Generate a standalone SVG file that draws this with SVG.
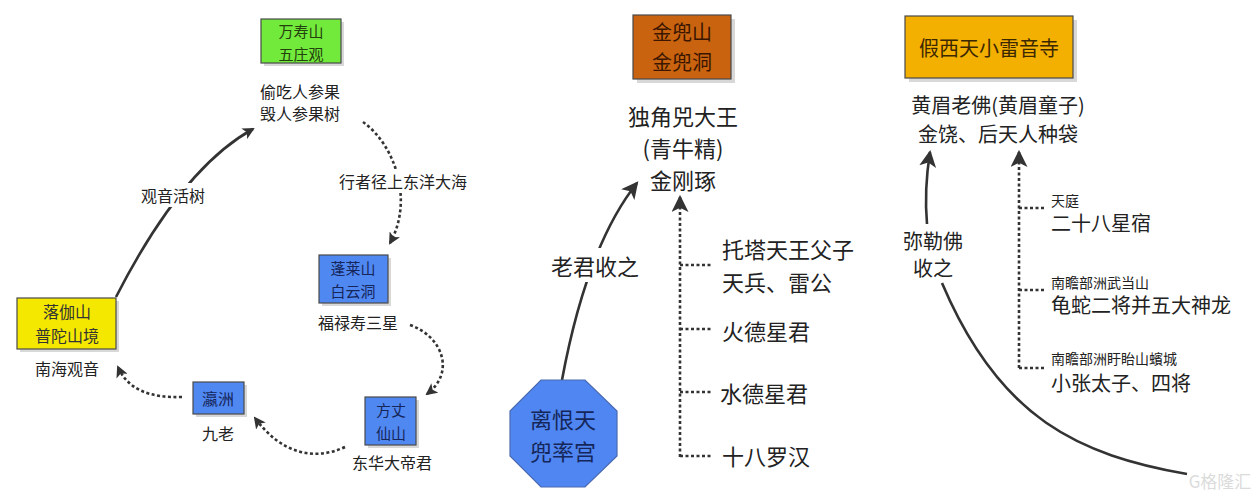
<svg xmlns="http://www.w3.org/2000/svg" width="1259" height="497" viewBox="0 0 1259 497">
<defs>
<marker id="ah" viewBox="0 0 12 12" refX="10" refY="6" markerWidth="12" markerHeight="12" markerUnits="userSpaceOnUse" orient="auto">
<path d="M0,0 L12,6 L0,12 L3,6 Z" fill="#333"/>
</marker>
<marker id="ahb" viewBox="0 0 16 16" refX="14" refY="8" markerWidth="17" markerHeight="17" markerUnits="userSpaceOnUse" orient="auto">
<path d="M0,0 L16,8 L0,16 L4,8 Z" fill="#333"/>
</marker>
</defs>
<style>
text{font-family:"Noto Sans CJK SC","Noto Sans",sans-serif;fill:#222;text-anchor:middle;dominant-baseline:central}
.s15{font-size:15px}
.s16{font-size:16px}
.s20{font-size:20px}
.s22{font-size:22px}
.sm{font-size:14px;text-anchor:start}
.l20{font-size:20px;text-anchor:start}
.l22{font-size:22px;text-anchor:start}
.box{stroke:#4a4a4a;stroke-width:1.2}
.sh{fill:#d8d8d8}
.solid{fill:none;stroke:#333;stroke-width:2.6}
.dot{fill:none;stroke:#333;stroke-width:2.6;stroke-dasharray:3 2.5}
.bg{fill:#fff}
</style>
<rect width="1259" height="497" fill="#fff"/>

<g id="connectors">
<path class="solid" d="M116,297 Q182,168 253,129" marker-end="url(#ah)"/>
<path class="dot" d="M363,122 C395,145 414,200 390,243" marker-end="url(#ah)"/>
<path class="dot" d="M410,325 C442,336 456,372 427,394" marker-end="url(#ah)"/>
<path class="dot" d="M345,447 C312,462 280,452 255,418" marker-end="url(#ah)"/>
<path class="dot" d="M182,397 C150,398 128,390 118,367" marker-end="url(#ah)"/>
<path class="solid" d="M562,380 C575,310 598,232 637,183" marker-end="url(#ahb)"/>
<path class="dot" d="M680,457 L680,197" marker-end="url(#ahb)"/>
<path class="dot" d="M680,265 H712 M680,329 H712 M680,392 H712 M680,456 H712"/>
<path class="solid" d="M1187,474 C1080,455 1000,420 942,283"/>
<path class="solid" d="M927,224 Q924,190 930,152" marker-end="url(#ahb)"/>
<path class="dot" d="M1019,368 L1019,152" marker-end="url(#ahb)"/>
<path class="dot" d="M1019,208 H1045 M1019,290 H1045 M1019,368 H1045"/>
</g>

<g id="label-guanyin">
<rect class="bg" x="138" y="183" width="70" height="24"/>
<text class="s16" x="173" y="195">观音活树</text>
</g>
<g id="label-xingzhe">
<rect class="bg" x="336" y="169" width="134" height="24"/>
<text class="s16" x="403" y="181">行者径上东洋大海</text>
</g>
<g id="label-laojun">
<rect class="bg" x="548" y="248" width="94" height="34"/>
<text class="s22" x="595" y="265">老君收之</text>
</g>
<g id="label-mile">
<rect class="bg" x="903" y="226" width="62" height="56"/>
<text class="s20" x="933" y="240">弥勒佛</text>
<text class="s20" x="933" y="267">收之</text>
</g>

<g id="wanshoushan">
<rect class="sh" x="264" y="22" width="80" height="44"/>
<rect class="box" x="261" y="19" width="80" height="44" fill="#72ea3c"/>
<text class="s15" x="301" y="30" style="fill:#24400c">万寿山</text>
<text class="s15" x="301" y="53" style="fill:#24400c">五庄观</text>
<text class="s16" x="300" y="91">偷吃人参果</text>
<text class="s16" x="300" y="113">毁人参果树</text>
</g>

<g id="penglai">
<rect class="sh" x="322" y="258" width="69" height="48"/>
<rect class="box" x="319" y="255" width="69" height="48" fill="#5088f2"/>
<text class="s15" x="353" y="267" style="fill:#15265a">蓬莱山</text>
<text class="s15" x="353" y="290" style="fill:#15265a">白云洞</text>
<text class="s16" x="358" y="322">福禄寿三星</text>
</g>

<g id="fangzhang">
<rect class="sh" x="368" y="400" width="51" height="48"/>
<rect class="box" x="365" y="397" width="51" height="48" fill="#5088f2"/>
<text class="s15" x="391" y="409" style="fill:#15265a">方丈</text>
<text class="s15" x="391" y="432" style="fill:#15265a">仙山</text>
<text class="s16" x="392" y="462">东华大帝君</text>
</g>

<g id="yingzhou">
<rect class="sh" x="196" y="385" width="51" height="32"/>
<rect class="box" x="193" y="382" width="51" height="32" fill="#5088f2"/>
<text class="s16" x="218" y="398" style="fill:#15265a">瀛洲</text>
<text class="s16" x="218" y="433">九老</text>
</g>

<g id="luojia">
<rect class="sh" x="20" y="301" width="99" height="51"/>
<rect class="box" x="17" y="298" width="99" height="51" fill="#f4e800"/>
<text class="s16" x="67" y="311" style="fill:#333">落伽山</text>
<text class="s16" x="67" y="335" style="fill:#333">普陀山境</text>
<text class="s16" x="67" y="368">南海观音</text>
</g>

<g id="jindoushan">
<rect class="sh" x="637" y="19" width="98" height="64"/>
<rect class="box" x="633" y="15" width="98" height="64" fill="#c9630f"/>
<text class="s20" x="682" y="31" style="fill:#3a1600">金兜山</text>
<text class="s20" x="682" y="61" style="fill:#3a1600">金兜洞</text>
<text class="s22" x="683" y="115">独角兕大王</text>
<text class="s22" x="683" y="147">(青牛精)</text>
<text class="s22" x="683" y="179">金刚琢</text>
</g>

<g id="doushuaigong">
<polygon points="541,380 585,380 617,411 617,456 585,487 541,487 510,456 510,411" fill="#4f86f2" stroke="#4a6ab0" stroke-width="1.2"/>
<text class="s22" x="563" y="418" style="fill:#15265a">离恨天</text>
<text class="s22" x="563" y="450" style="fill:#15265a">兜率宫</text>
</g>

<g id="helpers-mid">
<text class="l22" x="722" y="248">托塔天王父子</text>
<text class="l22" x="722" y="281">天兵、雷公</text>
<text class="l22" x="722" y="330">火德星君</text>
<text class="l22" x="720" y="392">水德星君</text>
<text class="l22" x="722" y="455">十八罗汉</text>
</g>

<g id="xiaoleiyin">
<rect class="sh" x="909" y="20" width="168" height="62"/>
<rect class="box" x="905" y="16" width="168" height="62" fill="#f4b000"/>
<text class="s20" x="989" y="47" style="fill:#3c2800">假西天小雷音寺</text>
<text class="s20" x="998" y="104">黄眉老佛(黄眉童子)</text>
<text class="s20" x="998" y="133">金饶、后天人种袋</text>
</g>

<g id="helpers-right">
<text class="sm" x="1051" y="200">天庭</text>
<text class="l20" x="1051" y="222">二十八星宿</text>
<text class="sm" x="1051" y="282">南瞻部洲武当山</text>
<text class="l20" x="1051" y="304">龟蛇二将并五大神龙</text>
<text class="sm" x="1051" y="358">南瞻部洲盱眙山蠙城</text>
<text class="l20" x="1051" y="382">小张太子、四将</text>
</g>

<g id="watermark" opacity="0.35">
<text x="1220" y="480" style="font-size:17px;fill:#999">G格隆汇</text>
</g>
</svg>
